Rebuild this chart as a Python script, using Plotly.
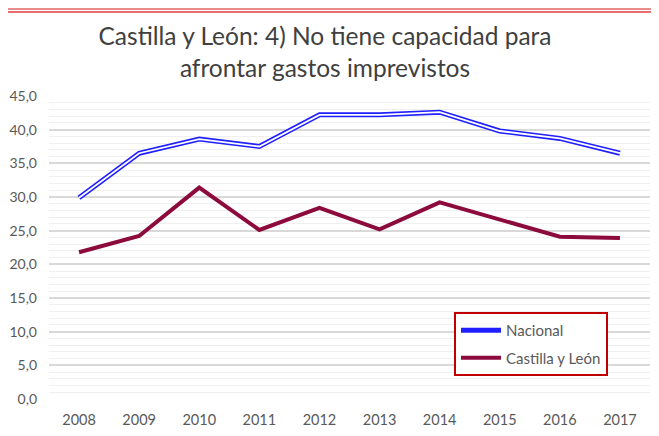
import plotly.graph_objects as go

years = ["2008", "2009", "2010", "2011", "2012", "2013", "2014", "2015", "2016", "2017"]
nacional = [29.9, 36.5, 38.6, 37.5, 42.2, 42.2, 42.6, 39.8, 38.7, 36.5]
castilla = [21.8, 24.2, 31.4, 25.1, 28.4, 25.2, 29.2, 26.6, 24.1, 23.9]
y_ticks = [0, 5, 10, 15, 20, 25, 30, 35, 40, 45]
y_tick_labels = ["0,0", "5,0", "10,0", "15,0", "20,0", "25,0", "30,0", "35,0", "40,0", "45,0"]

FONT = "Lato"
BLUE = "#1F1FFF"
MAROON = "#8C0A3C"

fig = go.Figure()
fig.add_trace(go.Scatter(x=years, y=nacional, mode="lines", name="Nacional",
                         line=dict(color=BLUE, width=5), legendgroup="a"))
fig.add_trace(go.Scatter(x=years, y=nacional, mode="lines", name="Nacional",
                         line=dict(color="white", width=1.8), showlegend=False,
                         legendgroup="a", hoverinfo="skip"))
fig.add_trace(go.Scatter(x=years, y=castilla, mode="lines", name="Castilla y León",
                         line=dict(color=MAROON, width=4), legendgroup="b"))

T = 88
fig.update_layout(
    width=659, height=436,
    margin=dict(l=41, r=17, t=T, b=45, autoexpand=False),
    paper_bgcolor="white", plot_bgcolor="white",
    font=dict(family=FONT, color="#595959", size=14.5),
    title=dict(text="Castilla y León: 4) No tiene capacidad para<br>afrontar gastos imprevistos",
               x=317 / 659, xanchor="center", xref="container",
               y=1 - 37 / 436, yanchor="top", yref="container",
               font=dict(family=FONT, size=24.5, color="#404040")),
    showlegend=True,
    legend=dict(x=(454 - 49) / 601, xanchor="left", y=(399 - 312) / 303, yanchor="top",
                bordercolor="#C00000", borderwidth=2, bgcolor="white",
                traceorder="grouped", tracegroupgap=5, itemwidth=40,
                font=dict(family=FONT, size=15, color="#595959")),
    shapes=[
        dict(type="line", xref="paper", yref="paper", x0=-0.2, x1=1.2,
             y0=1 + (T - 1) / 303, y1=1 + (T - 1) / 303,
             line=dict(color="#E06666", width=1.5)),
        dict(type="line", xref="paper", yref="paper", x0=-0.2, x1=1.2,
             y0=1 + (T - 4) / 303, y1=1 + (T - 4) / 303,
             line=dict(color="#E03C3C", width=1.5)),
    ],
)

fig.update_xaxes(type="category", range=[-0.5, 9.5], showgrid=False, zeroline=False,
                 showline=False, ticks="", ticklabelstandoff=10, automargin=False,
                 tickfont=dict(size=14.5, color="#595959"))
fig.update_yaxes(range=[0, 45], tickvals=y_ticks, ticktext=y_tick_labels,
                 showgrid=True, gridcolor="#D9D9D9", gridwidth=1.5, zeroline=False,
                 showline=False, ticks="", ticklabelstandoff=11, automargin=False,
                 minor=dict(dtick=1, showgrid=True, gridcolor="#F0F0F0", gridwidth=1),
                 tickfont=dict(size=14, color="#595959"))

fig.write_html("out.html")
